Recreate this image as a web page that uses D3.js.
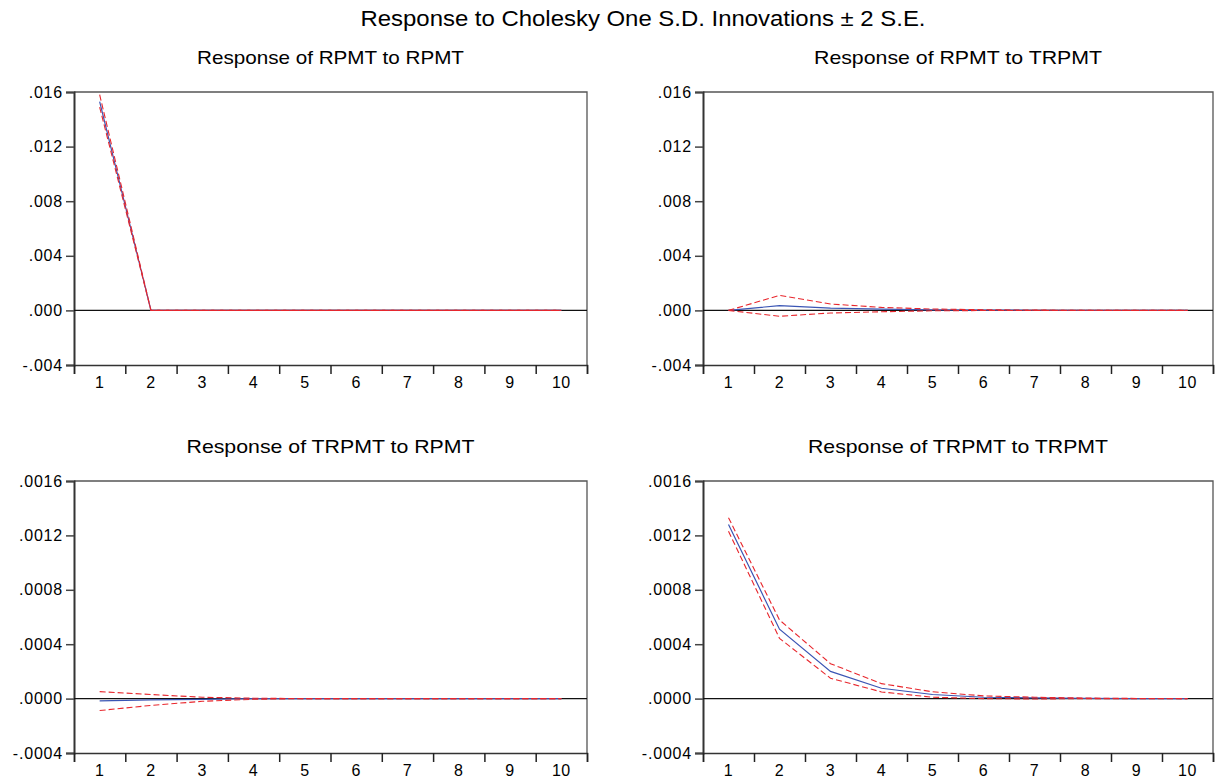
<!DOCTYPE html>
<html>
<head>
<meta charset="utf-8">
<script src="https://cdn.jsdelivr.net/npm/d3@7"></script>
<style>
  body { margin: 0; background: #fff; }
  text { font-family: "Liberation Sans", Arial, sans-serif; fill: #000; }
</style>
</head>
<body>
<div id="vis-holder"></div>
<script>
// periods on the x axis
var PERIODS = [1, 2, 3, 4, 5, 6, 7, 8, 9, 10];

// Response of RPMT to RPMT
var rr_resp  = [0.0153, 0, 0, 0, 0, 0, 0, 0, 0, 0];
var rr_upper = [0.0158, 0, 0, 0, 0, 0, 0, 0, 0, 0];
var rr_lower = [0.0149, 0, 0, 0, 0, 0, 0, 0, 0, 0];

// Response of RPMT to TRPMT
var rt_resp  = [0, 0.00035, 0.00017, 0.0001, 0.00004, 0.00002, 0.00001, 0, 0, 0];
var rt_upper = [0, 0.0011, 0.00047, 0.00022, 0.0001, 0.00005, 0.00002, 0.00001, 0, 0];
var rt_lower = [0, -0.00043, -0.00019, -0.0001, -0.00003, -0.00001, 0, 0, 0, 0];

// Response of TRPMT to RPMT
var tr_resp  = [-0.000017, -0.00001, -0.000005, 0, 0, 0, 0, 0, 0, 0];
var tr_upper = [0.000051, 0.00003, 0.00001, 0.000003, 0, 0, 0, 0, 0, 0];
var tr_lower = [-0.000088, -0.00005, -0.00002, -0.000005, 0, 0, 0, 0, 0, 0];

// Response of TRPMT to TRPMT
var tt_resp  = [0.00128, 0.00051, 0.0002, 0.000076, 0.00003, 0.00001, 0.000005, 0.000002, 0, 0];
var tt_upper = [0.00133, 0.000578, 0.000257, 0.00011, 0.00005, 0.00002, 0.00001, 0.000004, 0.000001, 0];
var tt_lower = [0.00123, 0.000443, 0.00015, 0.000049, 0.00001, 0, -0.000003, 0, 0, 0];

var TOP_TICKS = [-0.004, 0, 0.004, 0.008, 0.012, 0.016];
var BOT_TICKS = [-0.0004, 0, 0.0004, 0.0008, 0.0012, 0.0016];

var MAIN_TITLE = "Response to Cholesky One S.D. Innovations \u00b1 2 S.E.";

var panels = [
  {title: "Response of RPMT to RPMT", resp: rr_resp, upper: rr_upper, lower: rr_lower,
   ticks: TOP_TICKS, fmt: ".3f", left: 74, right: 587, top: 92, bottom: 365, tlen: 267},
  {title: "Response of RPMT to TRPMT", resp: rt_resp, upper: rt_upper, lower: rt_lower,
   ticks: TOP_TICKS, fmt: ".3f", left: 703, right: 1213, top: 92, bottom: 365, tlen: 288},
  {title: "Response of TRPMT to RPMT", resp: tr_resp, upper: tr_upper, lower: tr_lower,
   ticks: BOT_TICKS, fmt: ".4f", left: 74, right: 587, top: 481, bottom: 753, tlen: 288},
  {title: "Response of TRPMT to TRPMT", resp: tt_resp, upper: tt_upper, lower: tt_lower,
   ticks: BOT_TICKS, fmt: ".4f", left: 703, right: 1213, top: 481, bottom: 753, tlen: 300}
];

var locale = d3.formatLocale({decimal: ".", thousands: ",", grouping: [3], currency: ["", ""], minus: "-"});

var svg = d3.select("#vis-holder")
  .append("svg")
    .attr("width", 1215)
    .attr("height", 780);

svg.append("text")
  .attr("x", 643)
  .attr("y", 26)
  .attr("text-anchor", "middle")
  .attr("textLength", 565)
  .attr("lengthAdjust", "spacingAndGlyphs")
  .style("font-size", "22px")
  .text(MAIN_TITLE);

panels.forEach(function(p) {
  var x = d3.scaleLinear()
    .domain([0.5, 10.5])
    .range([p.left, p.right]);
  var y = d3.scaleLinear()
    .domain([p.ticks[0], p.ticks[p.ticks.length - 1]])
    .range([p.bottom, p.top]);

  var g = svg.append("g");

  // title
  g.append("text")
    .attr("x", (p.left + p.right) / 2)
    .attr("y", p.top - 28)
    .attr("text-anchor", "middle")
    .attr("textLength", p.tlen)
    .attr("lengthAdjust", "spacingAndGlyphs")
    .style("font-size", "19px")
    .text(p.title);

  // top and right border
  g.append("path")
    .attr("d", "M" + p.left + "," + p.top + "H" + p.right + "V" + p.bottom)
    .attr("fill", "none")
    .attr("stroke", "#555")
    .attr("stroke-width", 1.3);

  // y axis
  var fmt = locale.format(p.fmt);
  var yAxis = d3.axisLeft(y)
    .tickValues(p.ticks)
    .tickSize(8)
    .tickPadding(3)
    .tickFormat(d => fmt(d).replace("0.", "."));
  var ya = g.append("g")
    .attr("transform", "translate(" + p.left + ",0)")
    .call(yAxis);
  ya.select(".domain").attr("stroke", "#333").attr("stroke-width", 2);
  ya.selectAll(".tick line").attr("stroke", "#444").attr("stroke-width", 1.5);
  ya.selectAll("text")
    .style("font-size", "16px")
    .style("letter-spacing", "0.8px")
    .style("font-family", "Liberation Sans, Arial, sans-serif")
    .attr("fill", "#000");

  // x axis: ticks at band edges, labels at centres
  var xAxis = d3.axisBottom(x)
    .tickValues(d3.range(0.5, 11, 1))
    .tickSize(9)
    .tickFormat("");
  var xa = g.append("g")
    .attr("transform", "translate(0," + p.bottom + ")")
    .call(xAxis);
  xa.select(".domain").attr("stroke", "#333").attr("stroke-width", 1.5);
  xa.selectAll(".tick line").attr("stroke", "#222").attr("stroke-width", 1.5);

  g.append("g")
    .selectAll("text")
    .data(PERIODS)
    .enter()
    .append("text")
      .attr("x", d => x(d))
      .attr("y", p.bottom + 23)
      .attr("text-anchor", "middle")
      .style("font-size", "16px")
      .style("letter-spacing", "0.5px")
      .text(d => d);

  // zero line
  g.append("line")
    .attr("x1", p.left)
    .attr("x2", p.right)
    .attr("y1", y(0))
    .attr("y2", y(0))
    .attr("stroke", "#111")
    .attr("stroke-width", 1.2);

  var line = d3.line()
    .x((d, i) => x(PERIODS[i]))
    .y(d => y(d));

  g.append("path")
    .datum(p.resp)
    .attr("d", line)
    .attr("fill", "none")
    .attr("stroke", "#3a55b4")
    .attr("stroke-width", 1.2);
  g.append("path")
    .datum(p.upper)
    .attr("d", line)
    .attr("fill", "none")
    .attr("stroke", "#e8262c")
    .attr("stroke-width", 1.1)
    .attr("stroke-dasharray", "6,3");
  g.append("path")
    .datum(p.lower)
    .attr("d", line)
    .attr("fill", "none")
    .attr("stroke", "#e8262c")
    .attr("stroke-width", 1.1)
    .attr("stroke-dasharray", "6,3");
});
</script>
</body>
</html>
